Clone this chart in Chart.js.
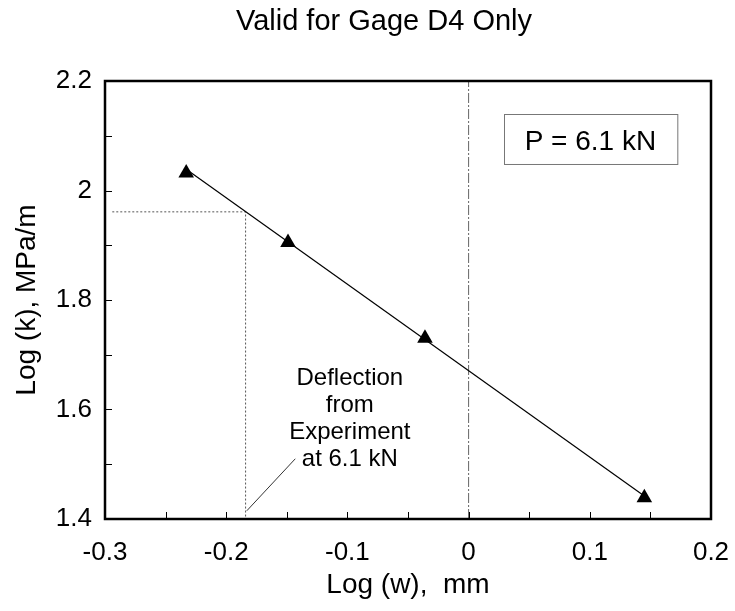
<!DOCTYPE html>
<html>
<head>
<meta charset="utf-8">
<script src="https://cdn.jsdelivr.net/npm/chart.js@4/dist/chart.umd.min.js"></script>
<style>
  html, body { margin: 0; padding: 0; background: #fff; }
</style>
</head>
<body>
<canvas id="chart" width="735" height="611"></canvas>
<script>
// measured points (log w, log k) and the fitted line through them
const pointX = [-0.233, -0.149, -0.036, 0.145];
const pointY = [2.032, 1.905, 1.730, 1.439];
const fitX = [-0.233, 0.145];
const fitY = [2.039, 1.442];

// dotted construction line read back from the experiment
const guideX = [-0.294, -0.184, -0.184];
const guideY = [1.961, 1.961, 1.4];
const zeroX = [0, 0];
const zeroY = [1.4, 2.2];
const leaderX = [-0.183, -0.143];
const leaderY = [1.415, 1.51];

// tick marks (inward) and labels
const xTickMarks = [-0.25, -0.2, -0.15, -0.1, -0.05, 0, 0.05, 0.1, 0.15];
const yTickMarks = [1.5, 1.6, 1.7, 1.8, 1.9, 2.0, 2.1];

const titleText = 'Valid for Gage D4 Only';
const xTitle = 'Log (w),  mm';
const yTitle = 'Log (k), MPa/m';
const noteLines = ['Deflection', 'from', 'Experiment', 'at 6.1 kN'];
const noteX = -0.098;
const noteY = [1.6447, 1.5954, 1.5461, 1.4968];
const boxLabel = 'P = 6.1 kN';
const boxX = [0.029, 0.172];
const boxY = [2.0484, 2.1397];
const boxTextY = 2.074;

const FONT = '"Liberation Sans", Arial, sans-serif';

const toXY = (xs, ys) => xs.map((x, i) => ({x, y: ys[i]}));
const fmt = (v) => String(+Number(v).toFixed(2));

const decorPlugin = {
  id: 'decor',
  afterDraw(chart) {
    const {ctx, chartArea: a, scales: {x, y}} = chart;
    ctx.save();

    // inward tick marks
    ctx.strokeStyle = '#000';
    ctx.lineWidth = 1;
    ctx.beginPath();
    xTickMarks.forEach((v) => {
      const px = Math.round(x.getPixelForValue(v)) + 0.5;
      ctx.moveTo(px, a.bottom);
      ctx.lineTo(px, a.bottom - 7);
    });
    yTickMarks.forEach((v) => {
      const py = Math.round(y.getPixelForValue(v)) + 0.5;
      ctx.moveTo(a.left, py);
      ctx.lineTo(a.left + 7, py);
    });
    ctx.stroke();

    // plot frame
    ctx.lineWidth = 2.5;
    ctx.strokeRect(a.left, a.top, a.right - a.left, a.bottom - a.top);

    // P box
    const bx0 = x.getPixelForValue(boxX[0]);
    const bx1 = x.getPixelForValue(boxX[1]);
    const by0 = y.getPixelForValue(boxY[1]);
    const by1 = y.getPixelForValue(boxY[0]);
    ctx.fillStyle = '#fff';
    ctx.fillRect(bx0, by0, bx1 - bx0, by1 - by0);
    ctx.strokeStyle = '#777';
    ctx.lineWidth = 1;
    ctx.strokeRect(Math.round(bx0) + 0.5, Math.round(by0) + 0.5, bx1 - bx0, by1 - by0);
    ctx.fillStyle = '#000';
    ctx.font = '28px ' + FONT;
    ctx.textAlign = 'center';
    ctx.textBaseline = 'alphabetic';
    ctx.fillText(boxLabel, (bx0 + bx1) / 2, y.getPixelForValue(boxTextY));

    // annotation text
    ctx.font = '24px ' + FONT;
    noteLines.forEach((t, i) => {
      ctx.fillText(t, x.getPixelForValue(noteX), y.getPixelForValue(noteY[i]));
    });

    // chart title
    ctx.font = '29px ' + FONT;
    ctx.fillText(titleText, 384, 30);

    // axis titles
    ctx.font = '28px ' + FONT;
    ctx.textBaseline = 'middle';
    ctx.fillText(xTitle, (a.left + a.right) / 2, 585);
    ctx.translate(27, (a.top + a.bottom) / 2);
    ctx.rotate(-Math.PI / 2);
    ctx.fillText(yTitle, 0, 0);

    ctx.restore();
  },
};

new Chart(document.getElementById('chart'), {
  type: 'scatter',
  data: {
    datasets: [
      {
        label: 'Measured',
        data: toXY(pointX, pointY),
        pointStyle: 'triangle',
        pointRadius: 9,
        backgroundColor: '#000',
        borderColor: '#000',
        borderWidth: 0,
      },
      {
        label: 'Fit',
        data: toXY(fitX, fitY),
        showLine: true,
        pointRadius: 0,
        borderColor: '#000',
        borderWidth: 1.2,
      },
      {
        label: 'Guide',
        data: toXY(guideX, guideY),
        showLine: true,
        pointRadius: 0,
        borderColor: '#555',
        borderWidth: 1,
        borderDash: [2, 2],
      },
      {
        label: 'Zero',
        data: toXY(zeroX, zeroY),
        showLine: true,
        pointRadius: 0,
        borderColor: '#666',
        borderWidth: 1,
        borderDash: [10, 2, 2, 2],
      },
      {
        label: 'Leader',
        data: toXY(leaderX, leaderY),
        showLine: true,
        pointRadius: 0,
        borderColor: '#333',
        borderWidth: 1,
      },
    ],
  },
  options: {
    responsive: false,
    animation: false,
    layout: {padding: {top: 81, right: 24, left: 0, bottom: 0}},
    plugins: {
      legend: {display: false},
      tooltip: {enabled: false},
      title: {display: false},
    },
    scales: {
      x: {
        type: 'linear',
        min: -0.3,
        max: 0.2,
        afterFit: (s) => {
          s.height = 92;
          s.paddingLeft = 0;
          s.paddingRight = 0;
        },
        grid: {display: false, drawTicks: false},
        border: {display: false},
        ticks: {
          stepSize: 0.1,
          padding: 18,
          color: '#000',
          font: {family: FONT, size: 26},
          callback: fmt,
        },
      },
      y: {
        type: 'linear',
        min: 1.4,
        max: 2.2,
        afterFit: (s) => {
          s.width = 105;
          s.paddingTop = 0;
          s.paddingBottom = 0;
        },
        grid: {display: false, drawTicks: false},
        border: {display: false},
        ticks: {
          stepSize: 0.2,
          padding: 13,
          color: '#000',
          font: {family: FONT, size: 26},
          callback: fmt,
        },
      },
    },
  },
  plugins: [decorPlugin],
});
</script>
</body>
</html>
